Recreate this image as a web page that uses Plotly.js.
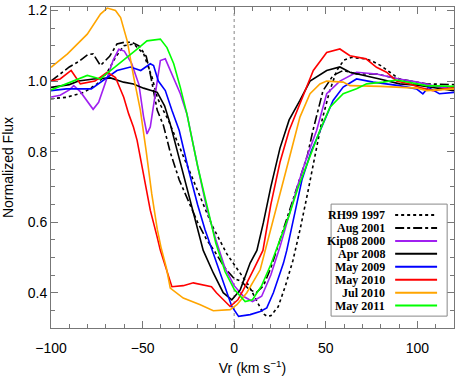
<!DOCTYPE html>
<html><head><meta charset="utf-8">
<script src="https://cdn.plot.ly/plotly-3.0.1.min.js"></script>
<style>html,body{margin:0;padding:0;background:#fff;}#chart{width:463px;height:382px;}</style>
</head><body><div id="chart"></div>
<script>
// Series data (velocity km/s, normalized flux)
const rh99_v = [-100,-91.6,-82,-74.8,-69.3,-64.8,-60.3,-54.8,-49.4,-44.8,-42,-40,-36,-32,-28,-24,-20,-16,-12,-8,-4,0,4,8,12,16,18,20,24,28,32,36,40,44,48,52,56,60,64,68,72,76,80,85,90,95,100,105,110,115,120];
const rh99_f = [0.95,0.954,0.968,0.992,1.025,1.067,1.10,1.105,1.077,1.01,0.954,0.93,0.89,0.84,0.79,0.74,0.69,0.64,0.59,0.55,0.51,0.48,0.45,0.42,0.38,0.34,0.333,0.335,0.36,0.42,0.49,0.58,0.68,0.79,0.89,0.97,1.03,1.06,1.067,1.065,1.063,1.055,1.044,1.025,1.006,0.997,0.992,0.99,0.987,0.982,0.978];

const aug01_v = [-100,-95,-90,-85,-80,-77,-73,-68,-64,-60,-56,-52,-48,-45.8,-42,-38.6,-35,-30,-25,-20,-15,-11,-5,0,4,8,12,16,20,25,30,35,40,43,48.5,54,59.5,66.8,77.7,90,105,120];
const aug01_f = [1.0,1.02,1.04,1.055,1.075,1.077,1.044,1.07,1.105,1.11,1.11,1.10,1.07,1.02,0.917,0.874,0.80,0.72,0.66,0.60,0.55,0.52,0.47,0.44,0.432,0.41,0.40,0.42,0.47,0.55,0.63,0.71,0.79,0.86,0.973,1.016,1.03,1.02,1.02,1.006,0.992,0.99];

const kip08_v = [-100,-95,-90,-87.6,-84,-80,-77,-74,-70,-66,-63,-60,-56,-52,-49.5,-47.6,-45.8,-43,-40.3,-37.6,-33,-29.4,-25.8,-24,-20,-15,-10,-5,0,5,10,15,20,25,30,35,40,45,50.5,57.7,66.8,77.7,90,100,110,120];
const kip08_f = [0.955,0.96,0.975,0.987,0.97,0.94,0.92,0.94,1.0,1.06,1.09,1.085,1.05,0.99,0.90,0.85,0.87,0.97,1.058,1.063,1.01,0.964,0.907,0.86,0.76,0.64,0.55,0.47,0.42,0.39,0.375,0.39,0.45,0.53,0.62,0.71,0.79,0.86,0.964,1.0,1.025,1.02,1.006,0.997,0.985,0.978];

const apr08_v = [-100,-90,-85,-76.7,-67.5,-60.4,-55,-49.5,-42,-38,-35,-30,-25,-20,-16.9,-11.4,-6,-1.3,3.3,8.7,12.4,16,20,25,30,35.9,41.4,50.5,57.7,63.2,72.3,80,90.4,100,108.4,120];
const apr08_f = [0.982,0.99,1.0,1.006,1.009,0.997,0.992,0.98,0.968,0.93,0.88,0.78,0.68,0.58,0.52,0.456,0.40,0.38,0.408,0.484,0.52,0.60,0.70,0.81,0.89,0.945,1.0,1.03,1.04,1.025,1.013,1.005,0.992,0.988,0.982,0.973];

const may09_v = [-100,-91.6,-78,-69,-64,-56.6,-51,-45.8,-44,-41.4,-37.6,-34,-30,-25,-20,-16,-12,-6,-1.3,2.4,8.7,14.2,17.8,21.4,26.9,28.7,33,37,42,46.8,54,59.5,66.8,75.9,90,99.5,103,106,112,120];
const may09_f = [0.973,0.978,0.978,1.01,1.03,1.04,1.03,1.049,1.044,1.0,0.973,0.917,0.86,0.75,0.65,0.58,0.52,0.428,0.361,0.333,0.338,0.347,0.357,0.40,0.484,0.52,0.62,0.72,0.80,0.86,0.945,0.983,1.006,0.997,0.987,0.978,0.964,0.982,0.964,0.968];

const may10_v = [-100,-95,-89,-84,-76,-69.3,-64.8,-60.3,-57.6,-55,-53,-49.4,-45.8,-42.1,-40.3,-34,-27.8,-22.3,-12.4,-9.7,-5,-2.2,2,5,10.5,15.7,20,25,30,35.9,43.2,50.5,57.7,63.2,68.6,72,77.7,83.2,88.6,95.9,101.3,108.5,120];
const may10_f = [1.0,1.006,1.03,0.992,1.0,1.025,1.01,0.954,0.907,0.87,0.832,0.738,0.634,0.559,0.52,0.417,0.42,0.428,0.417,0.40,0.375,0.361,0.38,0.408,0.465,0.52,0.65,0.77,0.86,0.935,1.03,1.081,1.091,1.072,1.067,1.063,1.039,1.025,1.0,0.992,0.982,0.973,0.982];

const jul10_v = [-100,-91,-80.2,-73,-69.3,-64.8,-62,-58.4,-54.8,-51.2,-48,-45,-42,-40,-37,-34.9,-27.8,-18.5,-11.4,-2.2,1.5,6.9,14.2,16.9,20,25,30,35.9,41.4,46.8,50.5,59.5,63.2,80,100,105,120];
const jul10_f = [1.039,1.077,1.133,1.19,1.207,1.2,1.18,1.114,1.01,0.917,0.80,0.68,0.58,0.53,0.47,0.413,0.385,0.366,0.349,0.352,0.366,0.40,0.465,0.52,0.58,0.68,0.78,0.898,0.964,0.992,1.0,0.997,0.987,0.985,0.98,0.973,0.978];

const may11_v = [-100,-90,-80.2,-73,-70,-65,-58.4,-52,-47.6,-40.3,-36.7,-33,-29.4,-25.8,-24,-20,-15,-10,-5,0,6,10,15,20,25,30,35,40,46.8,52.3,59.5,66.8,72.3,81.3,88.6,95,105,120];
const may11_f = [0.975,0.995,1.016,1.006,1.02,1.04,1.067,1.095,1.114,1.119,1.095,1.049,0.982,0.907,0.86,0.76,0.65,0.54,0.46,0.41,0.375,0.38,0.42,0.48,0.55,0.62,0.70,0.77,0.86,0.926,0.964,0.978,0.992,0.997,1.003,0.997,0.987,0.985];

const seriesNames = ['RH99 1997','Aug 2001','Kip08 2000','Apr 2008','May 2009','May 2010','Jul 2010','May 2011'];
const seriesColors = ['#000000','#000000','#a020f0','#000000','#0000ff','#ff0000','#ffa500','#00ff00'];
const seriesDash = ['dot','dashdot','solid','solid','solid','solid','solid','solid'];
const seriesV = [rh99_v,aug01_v,kip08_v,apr08_v,may09_v,may10_v,jul10_v,may11_v];
const seriesF = [rh99_f,aug01_f,kip08_f,apr08_f,may09_f,may10_f,jul10_f,may11_f];

const xTickVals = [-100,-50,0,50,100];
const yTickVals = [0.4,0.6,0.8,1.0,1.2];

const traces = seriesNames.map((n,i)=>({
  x: seriesV[i], y: seriesF[i], type:'scatter', mode:'lines', name:n,
  line:{color:seriesColors[i], width:1.6, dash:seriesDash[i]}, showlegend:false
}));

// legend (text left, line sample right) in paper coords
const legX0 = 0.695, legX1 = 0.983, legY0 = 0.037, legY1 = 0.386;
const rowTop = 0.352, rowStep = 0.0403;
const shapes = [
  {type:'line', xref:'x', yref:'paper', x0:0, x1:0, y0:0, y1:1, line:{color:'#999', width:1.2, dash:'dot'}, layer:'below'},
  {type:'rect', xref:'paper', yref:'paper', x0:legX0, x1:legX1, y0:legY0, y1:legY1, line:{color:'#888', width:1}, fillcolor:'#fff'}
];
const annotations = [];
seriesNames.forEach((n,i)=>{
  const yy = rowTop - i*rowStep;
  annotations.push({xref:'paper', yref:'paper', x:0.834, y:yy, xanchor:'right', yanchor:'middle', text:'<b>'+n+'</b>', showarrow:false,
    font:{family:'Liberation Serif, Times New Roman, serif', size:12, color:'#000'}});
  shapes.push({type:'line', xref:'paper', yref:'paper', x0:0.854, x1:0.958, y0:yy, y1:yy, line:{color:seriesColors[i], width:2, dash:seriesDash[i]}});
});

const axisCommon = {
  showgrid:false, zeroline:false, showline:true, linecolor:'#777', linewidth:1, mirror:'allticks',
  ticks:'inside', ticklen:7, tickcolor:'#777', tickwidth:1,
  tickfont:{family:'Liberation Sans, Arial, sans-serif', size:14, color:'#000'}
};

const layout = {
  width:463, height:382, margin:{l:51, r:9, t:7, b:54},
  paper_bgcolor:'#fff', plot_bgcolor:'#fff',
  xaxis: Object.assign({}, axisCommon, {
    range:[-100,120], tickvals:xTickVals, ticktext:xTickVals.map(v=>v<0?'\u2212'+Math.abs(v):String(v)),
    ticklabelstandoff:7,
    minor:{dtick:10, tick0:0, ticks:'inside', ticklen:4, tickcolor:'#777'},
    title:{text:'Vr (km s<sup>\u22121</sup>)', font:{family:'Liberation Sans, Arial, sans-serif', size:14, color:'#000'}, standoff:8}
  }),
  yaxis: Object.assign({}, axisCommon, {
    range:[0.3,1.21], tickvals:yTickVals, ticktext:yTickVals.map(v=>v.toFixed(1)),
    minor:{dtick:0.05, tick0:0, ticks:'inside', ticklen:4, tickcolor:'#777'},
    title:{text:'Normalized Flux', font:{family:'Liberation Sans, Arial, sans-serif', size:14, color:'#000'}, standoff:10}
  }),
  shapes: shapes, annotations: annotations
};
Plotly.newPlot('chart', traces, layout, {staticPlot:true, displayModeBar:false});
</script></body></html>
